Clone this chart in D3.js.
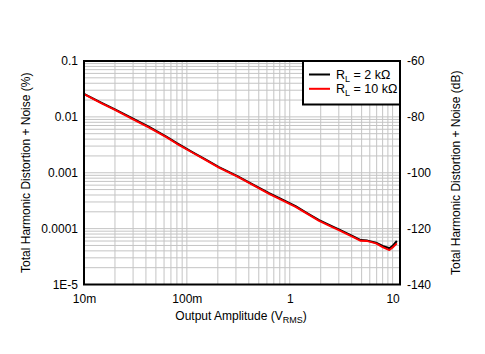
<!DOCTYPE html>
<html>
<head>
<meta charset="utf-8">
<script src="https://cdn.jsdelivr.net/npm/d3@7"></script>
<style>
  body { margin: 0; background: #fff; }
  text { font-family: "Liberation Sans", Arial, sans-serif; }
</style>
</head>
<body>
<div id="chart"></div>
<script>
// amplitude in Vrms
const amplitude = [0.01, 0.015, 0.02, 0.03, 0.043, 0.0625, 0.08, 0.114, 0.15, 0.205, 0.31, 0.45, 0.63, 0.85, 1.14, 1.5, 1.93, 2.5, 3.0, 4.1, 4.9, 5.7, 6.9, 8.0, 9.3, 10, 11];
// THD+N in %
const thd2k  = [0.0258, 0.0176, 0.0136, 0.0093, 0.0066, 0.0045, 0.0034, 0.00232, 0.00175, 0.00126, 0.00087, 0.00060, 0.00043, 0.00033, 0.000252, 0.000186, 0.000142, 0.000113, 0.000097, 0.0000735, 0.0000625, 0.0000610, 0.0000560, 0.0000490, 0.0000445, 0.0000490, 0.0000600];
const thd10k = [0.0256, 0.0172, 0.0133, 0.0090, 0.0064, 0.0044, 0.0033, 0.00228, 0.00172, 0.00124, 0.00085, 0.00059, 0.00042, 0.00032, 0.000246, 0.000182, 0.000138, 0.000110, 0.000094, 0.0000714, 0.0000605, 0.0000598, 0.0000544, 0.0000468, 0.0000413, 0.0000460, 0.0000544];

const xTicks = [0.01, 0.1, 1, 10];
const xTickLabels = ["10m", "100m", "1", "10"];
const yTicks = [0.1, 0.01, 0.001, 0.0001, 0.00001];
const yTickLabels = ["0.1", "0.01", "0.001", "0.0001", "1E-5"];
const dbTicks = [-60, -80, -100, -120, -140];

const seriesNames = ["2 k\u03A9", "10 k\u03A9"];
const seriesColors = ["#000000", "#ff0000"];

const width = 485, height = 354;
const margin = {top: 61, right: 85, bottom: 69.5, left: 84};
const w = width - margin.left - margin.right;
const h = height - margin.top - margin.bottom;

const svg = d3.select("#chart").append("svg")
    .attr("width", width)
    .attr("height", height);

const g = svg.append("g")
    .attr("transform", `translate(${margin.left},${margin.top})`);

const x = d3.scaleLog().domain([0.01, 11.8]).range([0, w]);
const y = d3.scaleLog().domain([0.00001, 0.1]).range([h, 0]);
const yDb = d3.scaleLinear().domain([-140, -60]).range([h, 0]);

// grid
const xGrid = [];
for (let d = 0.01; d < 20; d *= 10) {
    for (let k = 1; k < 10; k++) {
        const v = d * k;
        if (v > 0.01 && v <= 11.8) xGrid.push(v);
    }
}
const yGrid = [];
for (let d = 0.00001; d < 0.1; d *= 10) {
    for (let k = 1; k < 10; k++) {
        const v = d * k;
        if (v > 0.000011 && v < 0.099) yGrid.push(v);
    }
}

g.append("g").selectAll("line")
    .data(xGrid)
    .join("line")
    .attr("x1", d => x(d)).attr("x2", d => x(d))
    .attr("y1", 0).attr("y2", h)
    .attr("stroke", "#c4c4c4").attr("stroke-width", 1);

g.append("g").selectAll("line")
    .data(yGrid)
    .join("line")
    .attr("x1", 0).attr("x2", w)
    .attr("y1", d => y(d)).attr("y2", d => y(d))
    .attr("stroke", "#c4c4c4").attr("stroke-width", 1);

// series
const line = d3.line()
    .x(d => x(d[0]))
    .y(d => y(d[1]));

const series = [thd2k, thd10k];
series.forEach((s, i) => {
    g.append("path")
        .datum(amplitude.map((a, j) => [a, s[j]]))
        .attr("fill", "none")
        .attr("stroke", seriesColors[i])
        .attr("stroke-width", 2)
        .attr("stroke-linejoin", "round")
        .attr("d", line);
});

// frame
g.append("rect")
    .attr("width", w).attr("height", h)
    .attr("fill", "none")
    .attr("stroke", "#000").attr("stroke-width", 2);

// axes
const xAxis = g.append("g")
    .attr("transform", `translate(0,${h})`)
    .call(d3.axisBottom(x).tickValues(xTicks).tickFormat((d, i) => xTickLabels[i]).tickSize(0).tickPadding(10));
const yAxis = g.append("g")
    .call(d3.axisLeft(y).tickValues(yTicks).tickFormat((d, i) => yTickLabels[i]).tickSize(0).tickPadding(6));
const yAxisR = g.append("g")
    .attr("transform", `translate(${w},0)`)
    .call(d3.axisRight(yDb).tickValues(dbTicks).tickFormat(d => String(d)).tickSize(0).tickPadding(7));

[xAxis, yAxis, yAxisR].forEach(a => {
    a.select(".domain").remove();
    a.selectAll("text").attr("font-size", 12).attr("fill", "#000")
        .attr("font-family", "'Liberation Sans', Arial, sans-serif");
});

// axis titles
const xt = svg.append("text")
    .attr("x", margin.left + w / 2 - 1)
    .attr("y", 320)
    .attr("text-anchor", "middle")
    .attr("font-size", 12);
xt.append("tspan").text("Output Amplitude (V");
xt.append("tspan").attr("font-size", 9).attr("dy", 3).text("RMS");
xt.append("tspan").attr("dy", -3).text(")");

svg.append("text")
    .attr("transform", `translate(30,${margin.top + h / 2}) rotate(-90)`)
    .attr("text-anchor", "middle")
    .attr("font-size", 12)
    .text("Total Harmonic Distortion + Noise (%)");

svg.append("text")
    .attr("transform", `translate(460,${margin.top + h / 2}) rotate(-90)`)
    .attr("text-anchor", "middle")
    .attr("font-size", 12)
    .text("Total Harmonic Distortion + Noise (dB)");

// legend
const lg = g.append("g").attr("transform", `translate(${w - 97},0)`);
lg.append("rect")
    .attr("width", 97).attr("height", 43.5)
    .attr("fill", "#fff")
    .attr("stroke", "#000").attr("stroke-width", 2);
seriesNames.forEach((n, i) => {
    const yy = 13.5 + i * 14.3;
    lg.append("line")
        .attr("x1", 6).attr("x2", 27)
        .attr("y1", yy).attr("y2", yy)
        .attr("stroke", seriesColors[i]).attr("stroke-width", 2);
    const t = lg.append("text")
        .attr("x", 33).attr("y", yy + 4.5)
        .attr("font-size", 12.5);
    t.append("tspan").text("R");
    t.append("tspan").attr("font-size", 9).attr("dy", 3).text("L");
    t.append("tspan").attr("dy", -3).text(" = " + n);
});
</script>
</body>
</html>
